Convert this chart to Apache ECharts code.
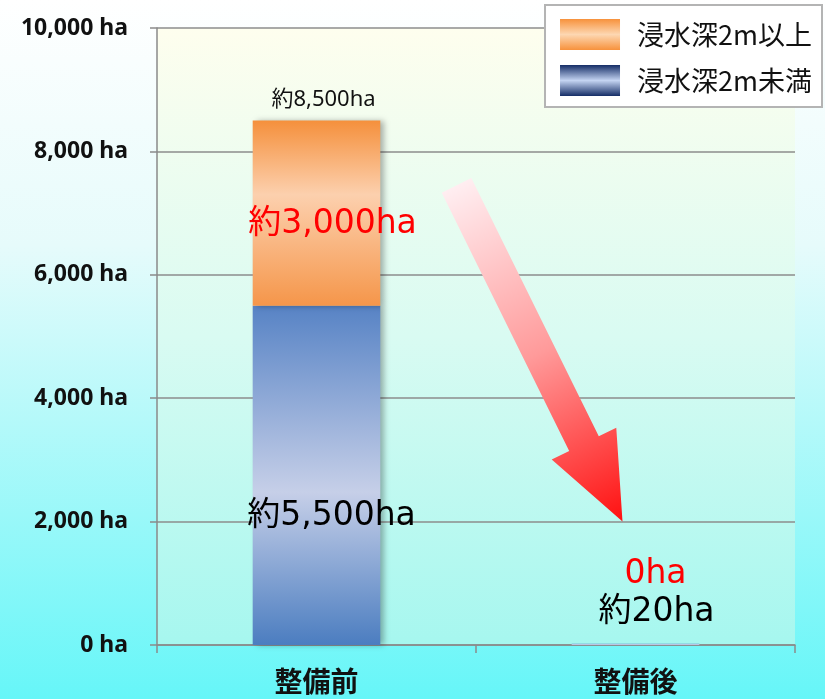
<!DOCTYPE html>
<html><head><meta charset="utf-8">
<script src="https://cdn.jsdelivr.net/npm/echarts@6/dist/echarts.min.js"></script>
<style>html,body{margin:0;padding:0;}#c{width:825px;height:699px;}</style>
</head><body><div id="c"></div>
<script>
const categories = ['整備前', '整備後'];
const seriesNames = ['浸水深2m未満', '浸水深2m以上'];
const shallowValues = [5500, 20];
const deepValues = [3000, 0];
const shallowLabels = ['約5,500ha', '約20ha'];
const deepLabels = ['約3,000ha', '0ha'];
const totalLabels = ['約8,500ha', ''];
const yTicks = { min: 0, max: 10000, interval: 2000 };

const LATIN = '"DejaVu Sans", "Noto Sans CJK JP", sans-serif';
const lin = (stops, x2, y2) => ({ type: 'linear', x: 0, y: 0, x2: x2, y2: y2, colorStops: stops.map(s => ({ offset: s[0], color: s[1] })) });

const orangeBar = lin([[0, '#f5903c'], [0.4, '#fcd0ae'], [1, '#f5964a']], 0, 1);
const blueBar = lin([[0, '#5783c5'], [0.55, '#c6cfe8'], [1, '#4b7dc0']], 0, 1);
const orangeLegend = lin([[0, '#f7923c'], [0.5, '#fdd7b2'], [1, '#f7923c']], 0, 1);
const blueLegend = lin([[0, '#152d66'], [0.5, '#c4d4f2'], [1, '#152d66']], 0, 1);
const shadow = { shadowColor: 'rgba(0,0,0,0.3)', shadowBlur: 6, shadowOffsetX: 4, shadowOffsetY: 0 };
const noShadow = { shadowBlur: 0, shadowOffsetX: 0, shadowColor: 'transparent' };

const chart = echarts.init(document.getElementById('c'), null, { renderer: 'canvas' });

const option = {
  animation: false,
  backgroundColor: lin([[0, '#ffffff'], [0.35, '#e6fbfb'], [1, '#66f6f8']], 0, 1),
  grid: {
    left: 157, right: 30, top: 28, bottom: 54, containLabel: false,
    show: true, borderWidth: 0,
    backgroundColor: lin([[0, '#fefeee'], [0.5, '#d9fbf2'], [1, '#a6f7ef']], 0, 1)
  },
  legend: {
    orient: 'vertical', right: 3, top: 5,
    data: [
      { name: seriesNames[1], itemStyle: { color: orangeLegend } },
      { name: seriesNames[0], itemStyle: { color: blueLegend } }
    ],
    icon: 'rect', itemWidth: 60, itemHeight: 31, itemGap: 15,
    padding: [14, 10, 11, 15],
    backgroundColor: '#ffffff', borderColor: '#b4b4b4', borderWidth: 2,
    textStyle: { fontSize: 27, color: '#111', fontFamily: '"Noto Sans CJK JP", sans-serif', padding: [0, 0, 0, 12] }
  },
  xAxis: {
    type: 'category', data: categories,
    axisLine: { lineStyle: { color: '#8a8a8a', width: 1.5 } },
    axisTick: { show: true, length: 8, alignWithLabel: false, lineStyle: { color: '#8a8a8a', width: 1.5 } },
    axisLabel: { fontSize: 28, fontWeight: 'bold', color: '#111', margin: 22, fontFamily: '"Noto Sans CJK JP", sans-serif' }
  },
  yAxis: {
    type: 'value', min: yTicks.min, max: yTicks.max, interval: yTicks.interval,
    axisLine: { show: true, lineStyle: { color: '#8a8a8a', width: 1.5 } },
    axisTick: { show: true, length: 7, lineStyle: { color: '#8a8a8a', width: 1.5 } },
    splitLine: { lineStyle: { color: '#8c8c8c', width: 1.5 } },
    axisLabel: {
      fontSize: 23, fontWeight: 'bold', color: '#111', margin: 29,
      fontFamily: '"Noto Sans", sans-serif',
      formatter: v => v.toLocaleString('en-US') + ' ha'
    }
  },
  series: [
    {
      name: seriesNames[0], type: 'bar', stack: 'a', barWidth: '40%',
      itemStyle: Object.assign({ color: blueBar }, shadow),
      data: shallowValues.map((v, i) => ({
        value: v,
        itemStyle: i === 0 ? undefined : noShadow,
        label: i === 0
          ? { show: true, position: 'inside', offset: [15, 41], formatter: shallowLabels[i], fontSize: 33, color: '#000', fontFamily: LATIN }
          : { show: true, position: 'top', distance: 15, offset: [21, 0], formatter: shallowLabels[i], fontSize: 33, color: '#000', fontFamily: LATIN }
      }))
    },
    {
      name: seriesNames[1], type: 'bar', stack: 'a',
      itemStyle: Object.assign({ color: orangeBar }, shadow),
      data: deepValues.map((v, i) => ({
        value: v,
        itemStyle: v === 0 ? noShadow : undefined,
        label: i === 0
          ? { show: true, position: 'inside', offset: [16, 11], formatter: deepLabels[i], fontSize: 33, color: '#ff0000', fontFamily: LATIN }
          : { show: true, position: 'top', distance: 53, offset: [20, 0], formatter: deepLabels[i], fontSize: 33, color: '#ff0000', fontFamily: LATIN }
      }))
    },
    {
      name: 'total', type: 'bar', stack: 'a',
      itemStyle: { color: 'transparent' },
      data: totalLabels.map(t => ({ value: 0, label: { show: t !== '', position: 'top', distance: 10, offset: [7, 0], formatter: t, fontSize: 22, color: '#111', fontFamily: '"Noto Sans", "Noto Sans CJK JP", sans-serif' } }))
    }
  ]
};
chart.setOption(option);

// Decorative arrow from 整備前 (≈7,450 ha) down to 整備後 (2,000 ha)
const startPx = chart.convertToPixel({ gridIndex: 0 }, [0, 7450]);
const tipPx = chart.convertToPixel({ gridIndex: 0 }, [1, 2000]);
const sx = startPx[0] + 140, sy = startPx[1];
const tx = tipPx[0] - 13, ty = tipPx[1];
const dx = tx - sx, dy = ty - sy, len = Math.hypot(dx, dy);
const ux = dx / len, uy = dy / len, nx = -uy, ny = ux;
const hw = 16.5, HW = 36, HL = 87;
const bx = tx - ux * HL, by = ty - uy * HL;
const pts = [
  [sx + nx * hw, sy + ny * hw], [bx + nx * hw, by + ny * hw], [bx + nx * HW, by + ny * HW],
  [tx, ty], [bx - nx * HW, by - ny * HW], [bx - nx * hw, by - ny * hw], [sx - nx * hw, sy - ny * hw]
];
chart.setOption({
  graphic: [{
    type: 'polygon', z: 100,
    shape: { points: pts },
    style: { fill: { type: 'linear', x: sx, y: sy, x2: tx, y2: ty, global: true,
      colorStops: [{ offset: 0, color: '#ffeef1' }, { offset: 0.5, color: '#ff9a9a' }, { offset: 1, color: '#ff1010' }] } }
  }]
});
</script></body></html>
